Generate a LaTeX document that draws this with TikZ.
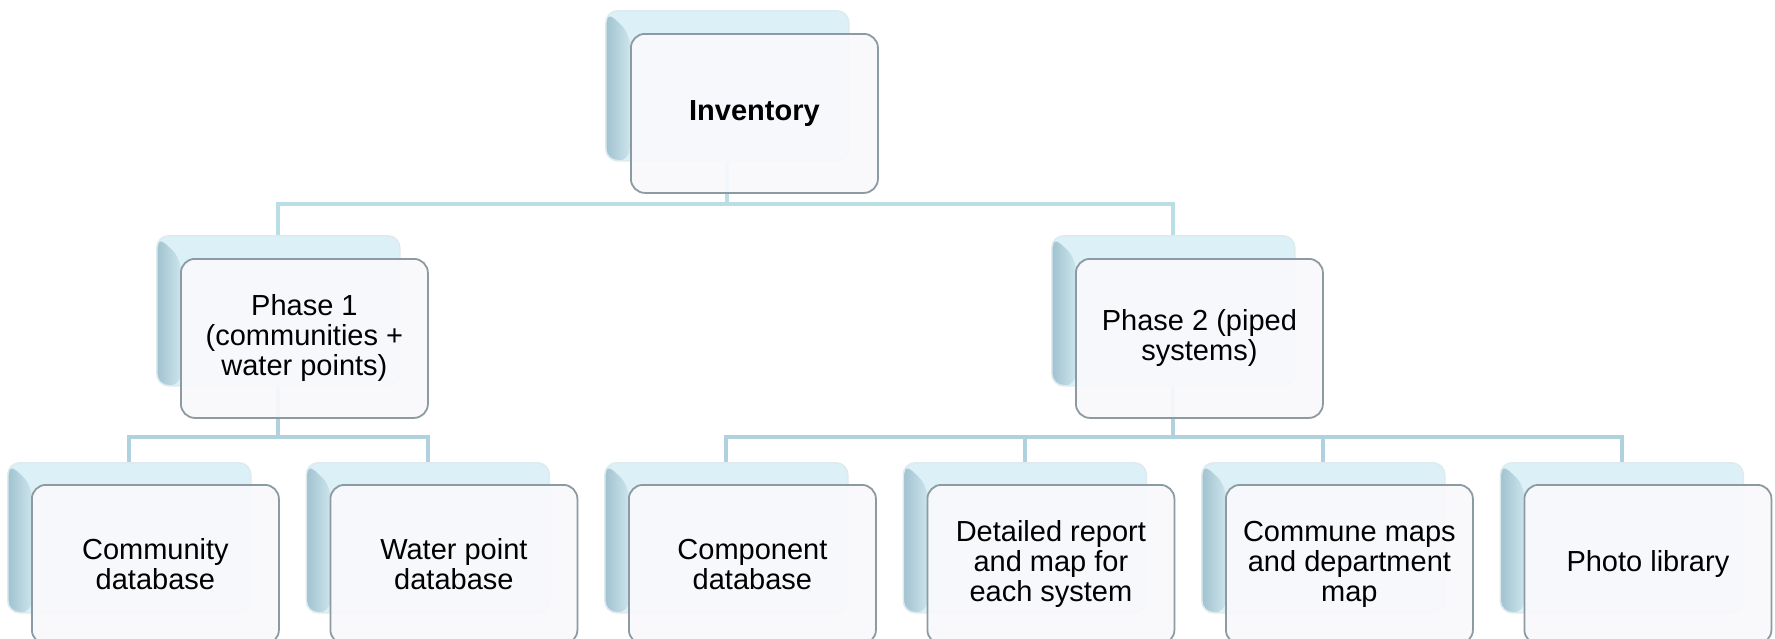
\documentclass[tikz,border=0pt]{standalone}
\usepackage{fontspec}
\setmainfont{Liberation Sans}
\definecolor{bkL}{RGB}{160,194,207}
\definecolor{bkM}{RGB}{204,228,236}
\definecolor{bkT}{RGB}{220,241,247}
\definecolor{bkE}{RGB}{222,234,238}
\definecolor{frF}{RGB}{249,249,252}
\definecolor{frE}{RGB}{140,155,162}
\definecolor{lnk}{RGB}{185,222,230}
\definecolor{lnkB}{RGB}{176,210,222}
\begin{document}
\begin{tikzpicture}[x=0.5pt,y=-0.5pt,
  backbox/.style={rounded corners=6pt, draw=bkE, line width=0.8pt,
    minimum width=121.5pt, minimum height=75pt, anchor=north west, inner sep=0pt,
    path picture={
      \fill[bkT] (path picture bounding box.south west) rectangle (path picture bounding box.north east);
      \shade[left color=bkL, right color=bkM]
        (path picture bounding box.north west)
        -- ([xshift=12pt,yshift=-11pt]path picture bounding box.north west)
        -- ([xshift=12pt]path picture bounding box.south west)
        -- (path picture bounding box.south west) -- cycle;
    }},
  frontbox/.style={rounded corners=7pt, fill=frF, fill opacity=0.92, text opacity=1,
    draw=frE, line width=0.9pt, minimum width=123.5pt, minimum height=79.5pt,
    anchor=north west, align=center, inner sep=0pt,
    font=\fontsize{14.5}{15}\selectfont},
  link/.style={draw=lnk, line width=2pt},
  sublink/.style={draw=lnkB, line width=2pt}]
\useasboundingbox (0,0) rectangle (1775,638);

% back panels
\node[backbox] (invb) at (605,10) {};
\node[backbox] (p1b) at (156,235) {};
\node[backbox] (p2b) at (1051,235) {};
\foreach \i/\n in {0/cdb,1/wdb,2/comp,3/det,4/maps,5/photo}{
  \node[backbox] (\n b) at (7+298.5*\i,462) {};
}

% connectors
\coordinate (busA) at (0,204);
\coordinate (busB) at (0,437);
\draw[link] (invb.south) -- (invb.south |- busA) -| (p1b.north);
\draw[link] (invb.south |- busA) -| (p2b.north);
\draw[sublink] (p1b.south) -- (p1b.south |- busB) -| (cdbb.north);
\draw[sublink] (p1b.south |- busB) -| (wdbb.north);
\draw[sublink] (p2b.south) -- (p2b.south |- busB) -| (compb.north);
\draw[sublink] (p2b.south |- busB) -| (photob.north);
\draw[sublink] (detb.north |- busB) -- (detb.north);
\draw[sublink] (mapsb.north |- busB) -- (mapsb.north);

% front panels with labels
\node[frontbox] (inv) at (630,33) {\bfseries Inventory};
\node[frontbox] (p1) at (180,258) {Phase 1\\(communities +\\water points)};
\node[frontbox] (p2) at (1075,258) {Phase 2 (piped\\systems)};
\node[frontbox] (cdb) at (31,484) {Community\\database};
\node[frontbox] (wdb) at (329.5,484) {Water point\\database};
\node[frontbox] (comp) at (628,484) {Component\\database};
\node[frontbox] (det) at (926.5,484) {Detailed report\\and map for\\each system};
\node[frontbox] (maps) at (1225,484) {Commune maps\\and department\\map};
\node[frontbox] (photo) at (1523.5,484) {Photo library};
\end{tikzpicture}
\end{document}
